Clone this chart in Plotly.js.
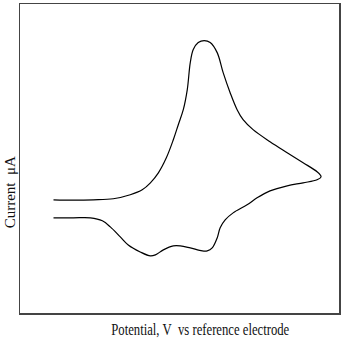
<!DOCTYPE html>
<html>
<head>
<meta charset="utf-8">
<script src="https://cdn.plot.ly/plotly-3.0.1.min.js"></script>
<style>html,body{margin:0;padding:0;background:#fff;}#chart{width:343px;height:340px;}</style>
</head>
<body>
<div id="chart"></div>
<script>
// Forward (anodic) scan, left to right
const forwardPotential = [0.168,0.268,0.368,0.468,0.553,0.613,0.654,0.694,0.734,0.769,0.794,0.819,0.839,0.854,0.869,0.894,0.924,0.954,0.989,1.019,1.054,1.089,1.119,1.169,1.254,1.340,1.420,1.490,1.510];
const forwardCurrent   = [0.99,0.96,0.99,1.09,1.48,1.96,2.64,3.61,5.07,6.82,8.28,9.74,11.69,14.31,15.58,16.26,16.45,16.26,15.28,13.34,11.39,9.74,8.77,7.80,6.63,5.56,4.59,3.71,3.23];
// Reverse (cathodic) scan, right to left
const reversePotential = [1.490,1.420,1.340,1.254,1.189,1.139,1.069,1.029,1.004,0.989,0.964,0.939,0.914,0.854,0.804,0.769,0.719,0.679,0.654,0.603,0.543,0.503,0.453,0.413,0.353,0.268,0.168];
const reverseCurrent   = [2.93,2.64,2.35,1.86,1.18,0.50,-0.28,-0.96,-1.73,-2.71,-3.68,-3.97,-3.97,-3.68,-3.48,-3.48,-3.87,-4.36,-4.46,-4.07,-3.39,-2.61,-1.64,-1.05,-0.76,-0.76,-0.76];

const xTitle = 'Potential, V\u00a0 vs reference electrode';
const yTitle = 'Current  \u03bcA';

const potential = forwardPotential.concat(reversePotential);
const current = forwardCurrent.concat(reverseCurrent);

const trace = {
  x: potential, y: current, type: 'scatter', mode: 'lines',
  line: {color: '#000', width: 1.2, shape: 'spline', smoothing: 1},
  hoverinfo: 'skip'
};

const axisCommon = {showgrid: false, zeroline: false, showticklabels: false, ticks: '',
  showline: true, mirror: true, linecolor: '#444', linewidth: 1.5, fixedrange: true};

const layout = {
  width: 343, height: 340,
  margin: {l: 20, r: 4, t: 4, b: 27, pad: 0},
  paper_bgcolor: '#fff', plot_bgcolor: '#fff',
  showlegend: false,
  xaxis: Object.assign({range: [0, 1.6]}, axisCommon),
  yaxis: Object.assign({range: [-10, 20]}, axisCommon),
  font: {family: '"Liberation Serif", "DejaVu Serif", serif', color: '#111'},
  annotations: [
    {text: xTitle, xref: 'paper', yref: 'paper', x: 0.567, y: -0.052,
     xanchor: 'center', yanchor: 'middle', showarrow: false,
     font: {size: 16, family: '"Liberation Serif", serif', color: '#111'}},
    {text: yTitle, xref: 'paper', yref: 'paper', x: -0.033, y: 0.392,
     xanchor: 'center', yanchor: 'middle', showarrow: false, textangle: -90,
     font: {size: 15, family: '"Liberation Serif", serif', color: '#111'}}
  ]
};

Plotly.newPlot('chart', [trace], layout, {staticPlot: true, displayModeBar: false}).then(function () {
  // horizontally condense the x title as in the reference
  const texts = document.querySelectorAll('.annotation-text');
  texts.forEach(function (t) {
    if (t.textContent.indexOf('Potential') === 0) {
      t.setAttribute('textLength', '178');
      t.setAttribute('lengthAdjust', 'spacingAndGlyphs');
    }
  });
});
</script>
</body>
</html>
